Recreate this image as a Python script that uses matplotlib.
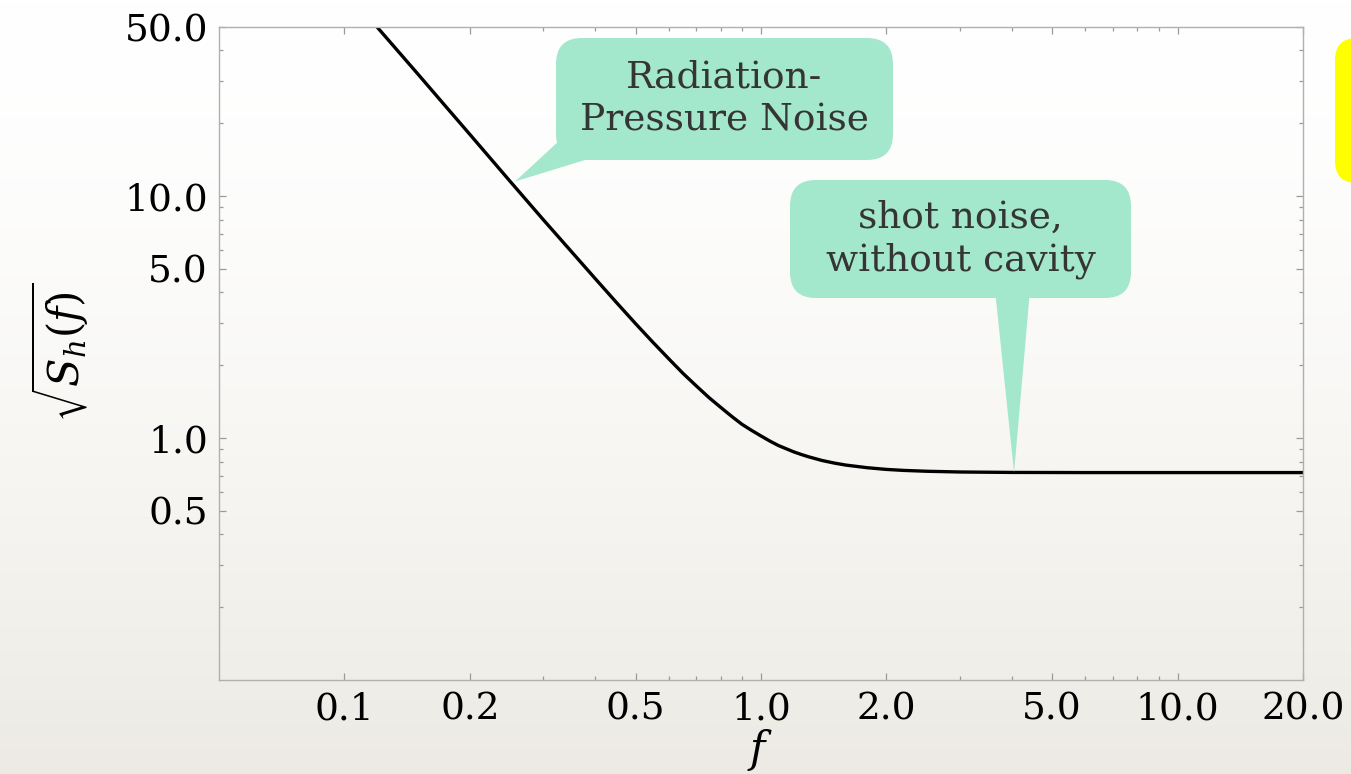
import numpy as np
import matplotlib
matplotlib.use("Agg")
import matplotlib.pyplot as plt
from matplotlib.patches import FancyBboxPatch, Polygon
from matplotlib.ticker import FixedLocator, NullFormatter

# noise amplitude curve: sqrt(S_h) against frequency f
freq = [0.118, 0.15, 0.175, 0.2, 0.25, 0.3, 0.35, 0.4, 0.45, 0.5, 0.55, 0.6,
        0.65, 0.7, 0.75, 0.8, 0.85, 0.9, 0.95, 1.0, 1.05, 1.1, 1.15, 1.2, 1.25,
        1.3, 1.4, 1.5, 1.6, 1.8, 2.0, 2.2, 2.5, 3.0, 4.0, 6.0, 10.0, 20.0]
asd = [51.5, 32.0, 23.5, 18.0, 11.5, 8.0, 5.92, 4.56, 3.63, 2.97, 2.49, 2.13,
       1.85, 1.64, 1.47, 1.34, 1.23, 1.14, 1.075, 1.02, 0.972, 0.932, 0.903,
       0.876, 0.855, 0.837, 0.808, 0.788, 0.773, 0.754, 0.742, 0.735, 0.729,
       0.724, 0.721, 0.72, 0.72, 0.72]

x_ticks = [0.1, 0.2, 0.5, 1.0, 2.0, 5.0, 10.0, 20.0]
x_labels = ["0.1", "0.2", "0.5", "1.0", "2.0", "5.0", "10.0", "20.0"]
x_minor = [0.3, 0.4, 0.6, 0.7, 0.8, 0.9, 3.0, 4.0, 6.0, 7.0, 8.0, 9.0]
y_ticks = [0.5, 1.0, 5.0, 10.0, 50.0]
y_labels = ["0.5", "1.0", "5.0", "10.0", "50.0"]
y_minor = [0.2, 0.3, 0.4, 0.6, 0.7, 0.8, 0.9, 2.0, 3.0, 4.0, 6.0, 7.0, 8.0, 9.0,
           20.0, 30.0, 40.0]

callout_rp = "Radiation-\nPressure Noise"
callout_shot = "shot noise,\nwithout cavity"
tip_rp = (0.257, 11.5)      # where each callout points on the curve
tip_shot = (4.05, 0.72)

W, H, DPI = 1351, 774, 100
TEAL = "#a3e7cd"
plt.rcParams["font.family"] = "DejaVu Serif"
plt.rcParams["mathtext.fontset"] = "dejavuserif"


def inch(x, y):
    # pixel position measured from the top-left corner -> inches
    return x / DPI, (H - y) / DPI


fig = plt.figure(figsize=(W / DPI, H / DPI), dpi=DPI)

# soft white-to-beige backdrop
bg = fig.add_axes([0, 0, 1, 1], zorder=0)
t = np.linspace(0, 1, 256)[:, None] ** 1.6
top = np.array([1.0, 1.0, 1.0])
bot = np.array([236, 234, 227]) / 255.0
grad = top + (bot - top) * t[..., None]
bg.imshow(np.repeat(grad, 2, axis=1), aspect="auto", extent=[0, 1, 0, 1])
bg.axis("off")

ax = fig.add_axes([219 / W, 1 - 680 / H, (1303 - 219) / W, (680 - 27) / H], zorder=1)
ax.set_facecolor("none")
ax.set_xscale("log")
ax.set_yscale("log")
ax.set_xlim(0.05, 20)
ax.set_ylim(0.1, 50)
ax.plot(freq, asd, color="black", lw=2.4, solid_joinstyle="round")

ax.xaxis.set_major_locator(FixedLocator(x_ticks))
ax.set_xticklabels(x_labels)
ax.xaxis.set_minor_locator(FixedLocator(x_minor))
ax.yaxis.set_major_locator(FixedLocator(y_ticks))
ax.set_yticklabels(y_labels)
ax.yaxis.set_minor_locator(FixedLocator(y_minor))
ax.xaxis.set_minor_formatter(NullFormatter())
ax.yaxis.set_minor_formatter(NullFormatter())
ax.tick_params(which="both", direction="in", top=True, right=True,
               color="#9a9a9a", width=0.9, labelsize=27, labelcolor="black")
ax.tick_params(which="major", length=5, pad=8)
ax.tick_params(which="minor", length=3)
for s in ax.spines.values():
    s.set_color("#b0b0b0")
    s.set_linewidth(1.0)

fig.text(*inch(60, 352), r"$\sqrt{S_h(f)}$", transform=fig.dpi_scale_trans,
         rotation=90, ha="center", va="center", fontsize=30)
fig.text(*inch(760, 750), r"$f$", transform=fig.dpi_scale_trans,
         ha="center", va="center", fontsize=30)


def callout(x0, y0, x1, y1, text, tip, base):
    tip_in = fig.dpi_scale_trans.inverted().transform(ax.transData.transform(tip))
    wedge = Polygon([inch(*base[0]), inch(*base[1]), tip_in], closed=True,
                    transform=fig.dpi_scale_trans, fc=TEAL, ec="none", zorder=3)
    fig.add_artist(wedge)
    (lx, by), (rx, ty) = inch(x0, y1), inch(x1, y0)
    box = FancyBboxPatch((lx, by), rx - lx, ty - by,
                         boxstyle="round,pad=0,rounding_size=0.26",
                         transform=fig.dpi_scale_trans, fc=TEAL, ec="none", zorder=3)
    fig.add_artist(box)
    fig.text((lx + rx) / 2, (by + ty) / 2, text, transform=fig.dpi_scale_trans,
             ha="center", va="center", fontsize=27, color="#353535",
             linespacing=1.25, zorder=4)


callout(556, 38, 893, 160, callout_rp, tip_rp, [(560, 140), (585, 160)])
callout(790, 180, 1131, 298, callout_shot, tip_shot, [(995, 290), (1030, 290)])

# yellow tab running off the right edge
tab = FancyBboxPatch(inch(1335, 183), 0.5, 1.45,
                     boxstyle="round,pad=0,rounding_size=0.22",
                     transform=fig.dpi_scale_trans, fc="#ffff00", ec="none", zorder=3)
fig.add_artist(tab)

fig.savefig("out.png", dpi=DPI)
